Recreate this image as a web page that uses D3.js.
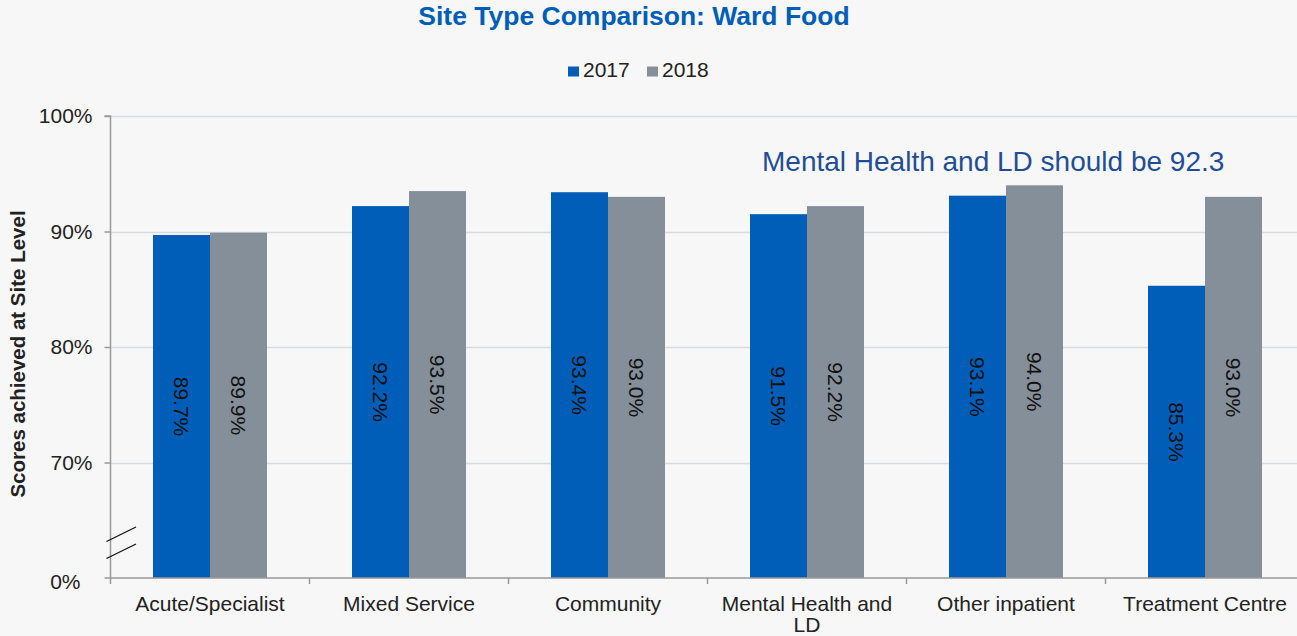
<!DOCTYPE html>
<html><head><meta charset="utf-8">
<script src="https://cdn.jsdelivr.net/npm/d3@7/dist/d3.min.js"></script>
<style>
html,body{margin:0;padding:0;background:#f7f7f7;}
svg{display:block;font-family:"Liberation Sans",Arial,sans-serif;}
</style></head>
<body>
<svg id="chart" width="1297" height="636"></svg>
<script>
const categories = ["Acute/Specialist","Mixed Service","Community","Mental Health and LD","Other inpatient","Treatment Centre"];
const seriesNames = ["2017","2018"];
const values2017 = [89.7, 92.2, 93.4, 91.5, 93.1, 85.3];
const values2018 = [89.9, 93.5, 93.0, 92.2, 94.0, 93.0];
const yTicks = [70, 80, 90, 100];
const yTickLabels = ["70%","80%","90%","100%"];
const bottomLabel = "0%";
const title = "Site Type Comparison: Ward Food";
const yTitle = "Scores achieved at Site Level";
const note = "Mental Health and LD should be 92.3";
const colors = ["#005EB8", "#858F9A"];

(function(){
const svg = d3.select("#chart");
const left = 110.5, plotBottom = 578, plotTop = 116;
const FS = 21;
const x = d3.scaleBand().domain(categories).range([left, left + 6*199]).paddingInner(0).paddingOuter(0);
const x1 = d3.scaleBand().domain(seriesNames).range([x.bandwidth()/2 - 57, x.bandwidth()/2 + 57]);
const y = d3.scaleLinear().domain([60, 100]).range([plotBottom, plotTop]);

// gridlines
svg.append("g").selectAll("line").data(yTicks).join("line")
  .attr("x1", left).attr("x2", 1297)
  .attr("y1", d => Math.round(y(d)) + 0.5).attr("y2", d => Math.round(y(d)) + 0.5)
  .attr("stroke", "#d5dbe1").attr("stroke-width", 1.5);

// bars
const data = categories.map((c, i) => ({c, vals: [values2017[i], values2018[i]]}));
const groups = svg.append("g").selectAll("g").data(data).join("g")
  .attr("transform", d => `translate(${x(d.c)},0)`);
groups.selectAll("rect").data(d => d.vals.map((v, j) => ({v, s: seriesNames[j], j}))).join("rect")
  .attr("x", d => x1(d.s)).attr("width", x1.bandwidth())
  .attr("y", d => y(d.v)).attr("height", d => plotBottom - y(d.v))
  .attr("fill", d => colors[d.j]);
groups.selectAll("text").data(d => d.vals.map((v, j) => ({v, s: seriesNames[j], j}))).join("text")
  .attr("transform", d => `translate(${x1(d.s) + x1.bandwidth()/2},${(y(d.v) + plotBottom)/2}) rotate(90)`)
  .attr("text-anchor", "middle").attr("dy", "0.35em")
  .attr("font-size", FS).attr("fill", "#111")
  .text(d => d.v.toFixed(1) + "%");

// y axis
const yAxis = d3.axisLeft(y).tickValues(yTicks).tickFormat((d, i) => yTickLabels[i]).tickSize(6).tickPadding(12);
const ya = svg.append("g").attr("transform", `translate(${left},0)`).call(yAxis);
ya.attr("font-size", null).attr("font-family", null);
ya.select(".domain").attr("stroke", "#999").attr("stroke-width", 1.5).attr("d", `M-6,${plotTop}H0V${plotBottom}`);
ya.selectAll(".tick line").attr("stroke", "#999").attr("stroke-width", 1.5);
ya.selectAll(".tick text").attr("font-size", FS).attr("fill", "#222");
ya.append("line").attr("x1", -6).attr("x2", 0).attr("y1", plotBottom).attr("y2", plotBottom).attr("stroke", "#999").attr("stroke-width", 1.5);
ya.append("text").attr("x", -30).attr("y", plotBottom + 4).attr("dy", "0.32em").attr("text-anchor", "end")
  .attr("font-size", FS).attr("fill", "#222").text(bottomLabel);

// x axis
const xAxis = d3.axisBottom(x).tickSize(0).tickFormat("");
const xa = svg.append("g").attr("transform", `translate(0,${plotBottom})`).call(xAxis);
xa.select(".domain").attr("stroke", "#999").attr("stroke-width", 1.5).attr("d", `M${left},0H1297`);
xa.selectAll(".tick").remove();
const bounds = categories.map(c => x(c)).concat([x(categories[5]) + x.bandwidth()]);
xa.selectAll("line.sep").data(bounds.filter(b => b < 1297)).join("line").attr("class", "sep")
  .attr("x1", d => d).attr("x2", d => d).attr("y1", 0).attr("y2", 6)
  .attr("stroke", "#999").attr("stroke-width", 1.5);
const catLines = {"Mental Health and LD": ["Mental Health and", "LD"]};
categories.forEach(c => {
  const lines = catLines[c] || [c];
  const t = svg.append("text").attr("text-anchor", "middle").attr("font-size", FS).attr("fill", "#222")
    .attr("x", x(c) + x.bandwidth()/2).attr("y", 611);
  lines.forEach((l, i) => t.append("tspan").attr("x", x(c) + x.bandwidth()/2).attr("dy", i === 0 ? 0 : 21).text(l));
});

// break marks
[0, 17].forEach(o => {
  svg.append("line").attr("x1", 106.5).attr("y1", 541.5 + o).attr("x2", 136).attr("y2", 527 + o)
    .attr("stroke", "#111").attr("stroke-width", 1.3);
});

// y title
svg.append("text").attr("transform", `translate(25,354) rotate(-90)`)
  .attr("text-anchor", "middle").attr("font-size", 20.5).attr("font-weight", "bold").attr("fill", "#222")
  .text(yTitle);

// title
svg.append("text").attr("x", 634).attr("y", 25).attr("text-anchor", "middle")
  .attr("font-size", 26.5).attr("font-weight", "bold").attr("fill", "#005EB8").text(title);

// legend
const lg = svg.append("g").attr("transform", "translate(568,71)");
seriesNames.forEach((s, i) => {
  const g = lg.append("g").attr("transform", `translate(${i*79},0)`);
  g.append("rect").attr("x", 0).attr("y", -4.5).attr("width", 11).attr("height", 10).attr("fill", colors[i]);
  g.append("text").attr("x", 15).attr("y", 6).attr("font-size", FS).attr("fill", "#222").text(s);
});

// annotation
svg.append("text").attr("x", 762).attr("y", 171).attr("font-size", 28).attr("fill", "#1F4E96").text(note);
})();
</script>
</body></html>
